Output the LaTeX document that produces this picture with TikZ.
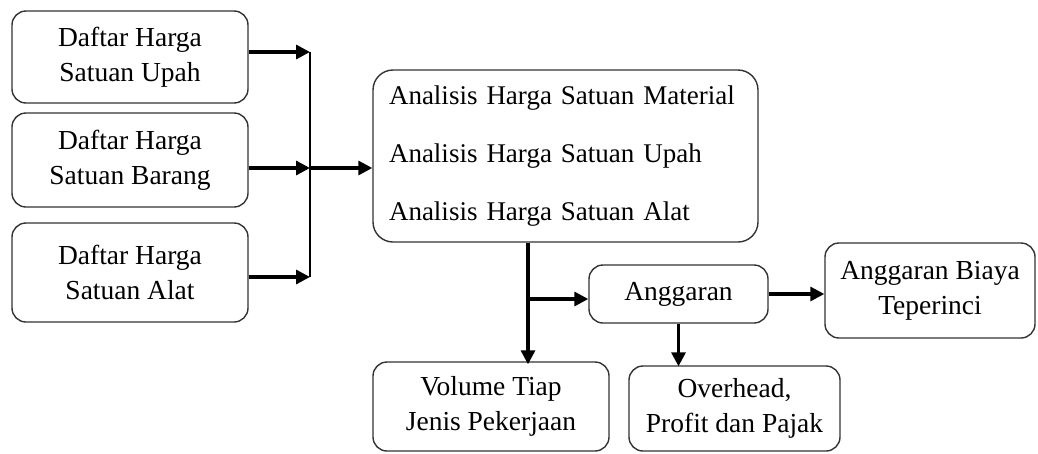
\documentclass[tikz,border=0pt]{standalone}
\usepackage{fontspec}
\setmainfont{Liberation Serif}
\usetikzlibrary{arrows.meta}
\begin{document}
\begin{tikzpicture}[x=1pt,y=-1pt,
  box/.style={draw=black!80, line width=1.4pt, rounded corners=14pt,
    align=center, inner sep=0pt, font=\fontsize{27.5}{35}\selectfont},
  arr/.style={line width=3.2pt, -{Triangle[length=14pt,width=14pt]}},
  bus/.style={line width=1.6pt}]
\useasboundingbox (0,0) rectangle (1038,453);

% input price lists
\node[box, minimum width=236pt, minimum height=92pt] (d1) at (130,57) {Daftar Harga\\Satuan Upah};
\node[box, minimum width=236pt, minimum height=94pt] (d2) at (130,160) {Daftar Harga\\Satuan Barang};
\node[box, minimum width=236pt, minimum height=99pt] (d3) at (130,272.5) {Daftar Harga\\Satuan Alat};

% unit price analysis
\node[box, rounded corners=20pt, minimum width=385pt, minimum height=172pt,
  text width=353pt, align=left, font=\fontsize{27}{58}\selectfont] (an) at (565.5,156)
  {Analisis Harga Satuan Material\\Analisis Harga Satuan Upah\\Analisis Harga Satuan Alat};

% outputs
\node[box, minimum width=179pt, minimum height=58pt] (ang) at (678.5,294) {Anggaran};
\node[box, minimum width=210pt, minimum height=95pt] (abt) at (930,290.5) {Anggaran Biaya\\Teperinci};
\node[box, minimum width=236pt, minimum height=89pt] (vol) at (491,406.5) {Volume Tiap\\Jenis Pekerjaan};
\node[box, minimum width=211pt, minimum height=85pt] (ovh) at (734.5,408.5) {Overhead,\\Profit dan Pajak};

% collecting bus
\coordinate (bt) at (310,52);
\coordinate (bm) at (310,168);
\coordinate (bb) at (310,277);
\draw[bus] (bt) -- (bb);
\draw[arr] (d1.east |- bt) -- (bt);
\draw[arr] (d2.east |- bm) -- (bm);
\draw[arr] (d3.east |- bb) -- (bb);
\draw[arr] (bm) -- (an.west |- bm);

% downstream flow
\coordinate (sx) at (528,0);
\coordinate (br) at (528,299);
\draw[arr] (an.south -| sx) -- ([yshift=-3pt]vol.north -| sx);
\draw[arr] (br) -- (ang.west |- br);
\draw[arr] (ang.east) -- (abt.west |- ang.east);
\draw[arr] (ang.south) -- ([yshift=-1pt]ovh.north -| ang.south);
\end{tikzpicture}
\end{document}
